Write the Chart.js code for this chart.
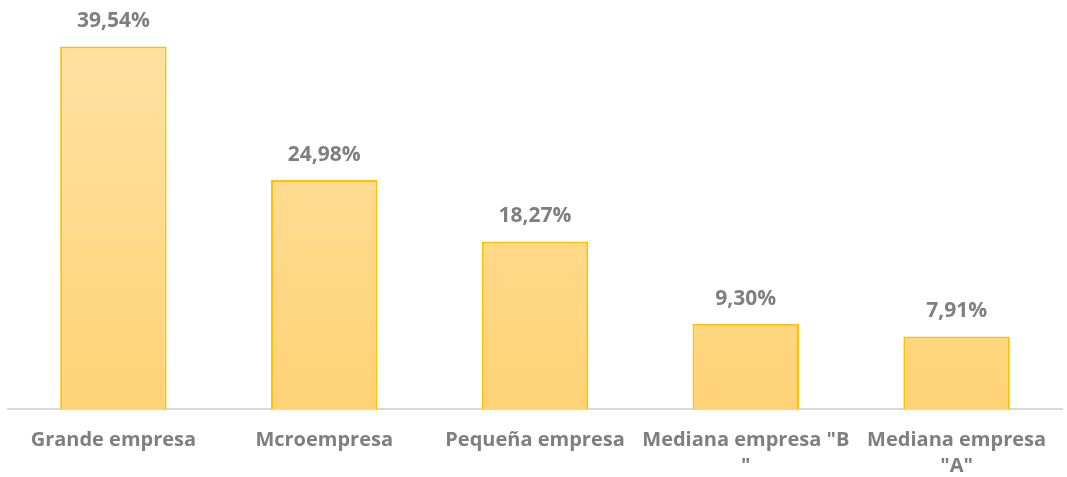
<!DOCTYPE html>
<html>
<head>
<meta charset="utf-8">
<script src="https://cdn.jsdelivr.net/npm/chart.js@4/dist/chart.umd.min.js"></script>
<style>
  html, body { margin: 0; padding: 0; background: #fff; }
  #wrap { width: 1067px; height: 477px; }
</style>
</head>
<body>
<div id="wrap"><canvas id="chart" width="1067" height="477"></canvas></div>
<script>
const categories = [
  'Grande empresa',
  'Mcroempresa',
  'Pequeña empresa',
  ['Mediana empresa "B', '"'],
  ['Mediana empresa', '"A"']
];
const shares = [39.54, 24.98, 18.27, 9.30, 7.91];
const shareLabels = ['39,54%', '24,98%', '18,27%', '9,30%', '7,91%'];

const FONT = "'Open Sans', sans-serif";
const GREY = '#7f7f7f';

// etiquetas de valor encima de cada barra
const valueLabels = {
  id: 'valueLabels',
  afterDatasetsDraw(chart) {
    const ctx = chart.ctx;
    const meta = chart.getDatasetMeta(0);
    ctx.save();
    ctx.font = 'bold 21px ' + FONT;
    ctx.fillStyle = GREY;
    ctx.textAlign = 'center';
    ctx.textBaseline = 'middle';
    meta.data.forEach((bar, i) => {
      ctx.fillText(shareLabels[i], bar.x, bar.y - 25);
    });
    ctx.restore();
  }
};

function barFill(context) {
  const area = context.chart.chartArea;
  if (!area) return '#FFD98A';
  const g = context.chart.ctx.createLinearGradient(0, area.top, 0, area.bottom);
  g.addColorStop(0, '#FFE3A6');
  g.addColorStop(1, '#FFD276');
  return g;
}

new Chart(document.getElementById('chart'), {
  type: 'bar',
  data: {
    labels: categories,
    datasets: [{
      data: shares,
      backgroundColor: barFill,
      borderColor: '#FFC000',
      borderWidth: 2,
      borderSkipped: 'bottom',
      categoryPercentage: 0.505,
      barPercentage: 1.0
    }]
  },
  options: {
    responsive: false,
    animation: false,
    layout: { padding: { left: 8, right: 5, top: 0, bottom: 0 } },
    plugins: { legend: { display: false }, tooltip: { enabled: false } },
    scales: {
      x: {
        grid: { display: false, drawTicks: false },
        border: { display: true, color: '#d9d9d9', width: 2 },
        afterFit(scale) { scale.height = 68; },
        ticks: {
          color: GREY,
          font: { family: FONT, size: 20, weight: 'bold', lineHeight: 1.3 },
          padding: 18,
          maxRotation: 0,
          autoSkip: false
        }
      },
      y: {
        display: false,
        min: 0,
        max: 44.6
      }
    }
  },
  plugins: [valueLabels]
});
</script>
</body>
</html>
